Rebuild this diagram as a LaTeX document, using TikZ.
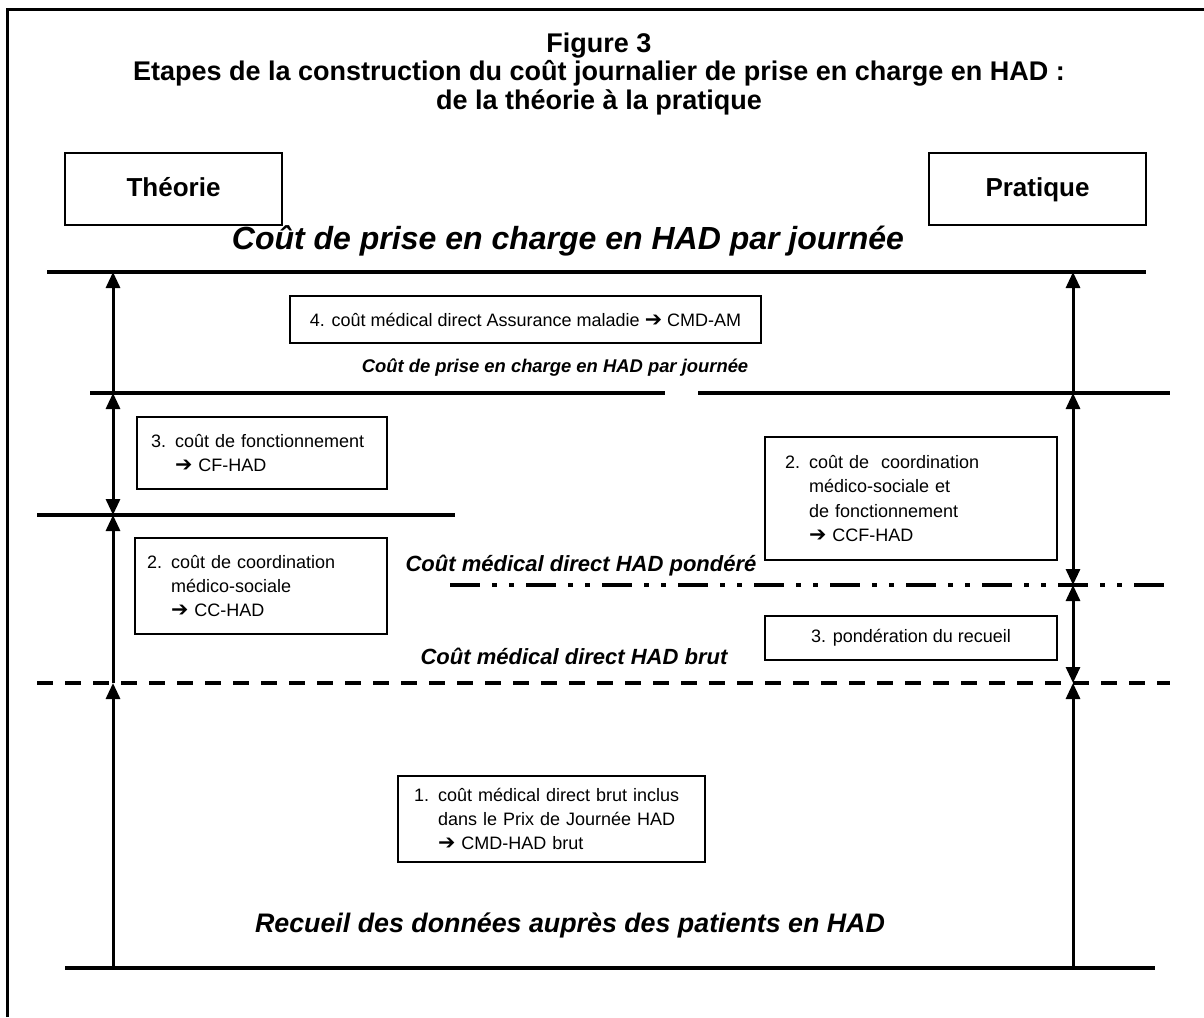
\documentclass[tikz,border=0pt]{standalone}
\usepackage{fontspec}
\setmainfont{Liberation Sans}
\newfontfamily\dejavu{DejaVu Sans}
\usetikzlibrary{arrows.meta}
\newcommand{\harr}{{\dejavu\bfseries\scalebox{1.15}{➔}}}

\begin{document}
\begin{tikzpicture}[x=0.5pt, y=-0.5pt,
    box/.style={draw, line width=1pt, inner xsep=10pt, inner ysep=0pt},
    txt/.style={font=\fontsize{9}{12.2}\selectfont, align=left},
    headbox/.style={box, font=\fontsize{13}{15}\selectfont\bfseries, text height=9.5pt, text depth=2.5pt,
      minimum width=108.5pt, minimum height=36pt},
    rule/.style={line width=2pt},
    up/.style={line width=1.5pt, -{Triangle[width=7pt,length=8pt]}},
    both/.style={line width=1.5pt, {Triangle[width=7pt,length=8pt]}-{Triangle[width=7pt,length=8pt]}},
    lbl/.style={font=\fontsize{11}{13}\selectfont\bfseries\itshape},
    biglbl/.style={font=\fontsize{16}{18}\selectfont\bfseries\itshape}]
  \useasboundingbox (0,0) rectangle (1204,1017);
  \draw[line width=1.5pt] (7,1017) -- (7,9) -- (1204,9);

  % titre
  \node[font=\fontsize{13.5}{14.2}\selectfont\bfseries, align=center] (titre) at (599,74)
    {Figure 3\\Etapes de la construction du coût journalier de prise en charge en HAD :\\de la théorie à la pratique};
  \node[headbox] (theorie) at (173.5,189) {Théorie};
  \node[headbox] (pratique) at (1037.5,189) {Pratique};
  \node[biglbl] (pcj) at (568,241) {Coût de prise en charge en HAD par journée};

  % lignes
  \draw[rule] (47,272) -- (1146,272);
  \draw[rule] (90,393) -- (665,393);
  \draw[rule] (698,393) -- (1170,393);
  \draw[rule] (37,515) -- (455,515);
  \draw[rule, dash pattern=on 15pt off 6pt on 2.5pt off 6pt on 2.5pt off 6pt] (450,585) -- (1170,585);
  \draw[rule, dash pattern=on 8pt off 6pt] (37,683) -- (1170,683);
  \draw[rule] (65,968) -- (1155,968);

  % etapes
  \node[box, txt, align=center, minimum width=219.5pt, minimum height=23.5pt] (am) at (525.5,319.5)
    {4. coût médical direct Assurance maladie \harr{} CMD-AM};
  \node[font=\fontsize{9.2}{11}\selectfont\bfseries\itshape] (pcj2) at (555,368) {Coût de prise en charge en HAD par journée};
  \node[box, txt, inner xsep=7pt, text width=111pt, minimum height=36pt] (cf) at (262,453)
    {3. coût de fonctionnement\\\hphantom{3. }\harr{} CF-HAD};
  \node[box, txt, inner xsep=6pt, text width=114pt, minimum height=48pt] (cc) at (261,586)
    {2. coût de coordination\\\hphantom{2. }médico-sociale\\\hphantom{2. }\harr{} CC-HAD};
  \node[box, txt, text width=126pt, minimum height=61.5pt] (ccf) at (911,498.5)
    {2. coût de\ \ coordination\\\hphantom{2. }médico-sociale et\\\hphantom{2. }de fonctionnement\\\hphantom{2. }\harr{} CCF-HAD};
  \node[box, txt, align=center, minimum width=146pt, minimum height=22pt] (pond) at (911,638)
    {3. pondération du recueil};
  \node[lbl] (cmdp) at (581,566) {Coût médical direct HAD pondéré};
  \node[lbl] (cmdb) at (574,656) {Coût médical direct HAD brut};
  \node[box, txt, inner xsep=8pt, text width=137.5pt, minimum height=43pt] (brut) at (551.5,819)
    {1. coût médical direct brut inclus\\\hphantom{1. }dans le Prix de Journée HAD\\\hphantom{1. }\harr{} CMD-HAD brut};
  \node[font=\fontsize{13.4}{15}\selectfont\bfseries\itshape] (recueil) at (570,925) {Recueil des données auprès des patients en HAD};

  % axes
  \coordinate (tA) at (113,272);
  \coordinate (tB) at (113,393);
  \coordinate (tC) at (113,515);
  \coordinate (tE) at (113,683);
  \coordinate (tD) at (113,968);
  \coordinate (pA) at (1073,272);
  \coordinate (pB) at (1073,393);
  \coordinate (pF) at (1073,585);
  \coordinate (pE) at (1073,683);
  \coordinate (pD) at (1073,968);

  \draw[up] (tD) -- (tE);
  \draw[up] (tE) -- (tC);
  \draw[both] (tC) -- (tB);
  \draw[up] (tB) -- (tA);
  \draw[up] (pD) -- (pE);
  \draw[both] (pE) -- (pF);
  \draw[both] (pF) -- (pB);
  \draw[up] (pB) -- (pA);
\end{tikzpicture}
\end{document}
